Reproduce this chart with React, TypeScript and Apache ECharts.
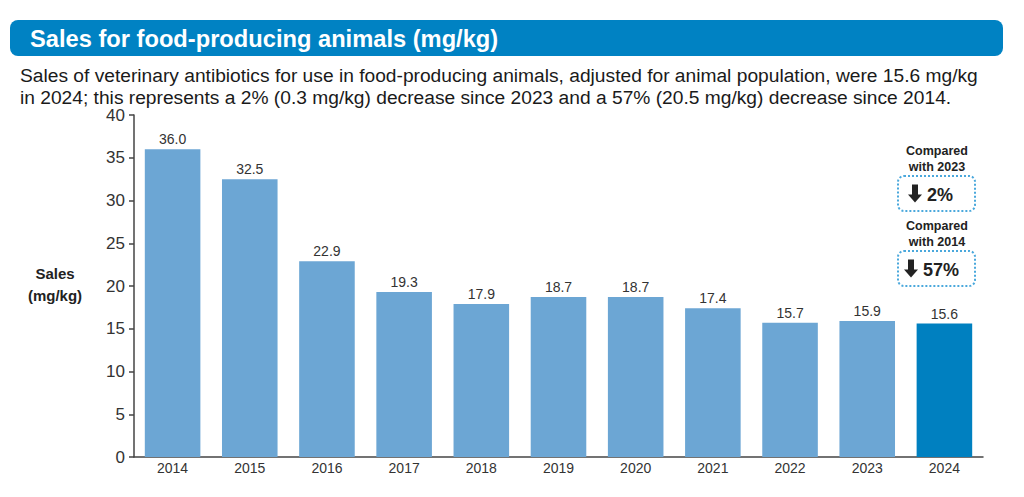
import React, { useEffect, useRef } from "react";
import * as echarts from "echarts";

const categories = ["2014", "2015", "2016", "2017", "2018", "2019", "2020", "2021", "2022", "2023", "2024"];
const salesValues = [36.0, 32.5, 22.9, 19.3, 17.9, 18.7, 18.7, 17.4, 15.7, 15.9, 15.6];
const yTicks = [0, 5, 10, 15, 20, 25, 30, 35, 40];
const titleText = "Sales for food-producing animals (mg/kg)";
const subtitleLines = [
  "Sales of veterinary antibiotics for use in food-producing animals, adjusted for animal population, were 15.6 mg/kg",
  "in 2024; this represents a 2% (0.3 mg/kg) decrease since 2023 and a 57% (20.5 mg/kg) decrease since 2014.",
];
const compareLabels = [
  { heading: ["Compared", "with 2023"], value: "2%" },
  { heading: ["Compared", "with 2014"], value: "57%" },
];

const FONT = "'Liberation Sans', Arial, sans-serif";
const OFF = 8; // body margin

export default function App() {
  const ref = useRef<HTMLDivElement>(null);
  useEffect(() => {
    const chart = echarts.init(ref.current!, undefined, { renderer: "svg" });
    const last = categories.length - 1;
    const boxTops = [176 - OFF, 251 - OFF];
    const headTops = [143 - OFF, 218 - OFF];
    const graphics: any[] = [
      {
        type: "rect",
        shape: { x: 10 - OFF, y: 20 - OFF, width: 993, height: 36, r: 8 },
        style: { fill: "#0082C3" },
      },
      {
        type: "text",
        x: 30 - OFF,
        y: 39 - OFF,
        style: {
          text: titleText,
          fill: "#fff",
          font: `bold 23px ${FONT}`,
          verticalAlign: "middle",
        },
        scaleX: 1.03,
      },
      ...subtitleLines.map((t, i) => ({
        type: "text",
        x: 20 - OFF,
        y: 75 - OFF + i * 22,
        style: { text: t, fill: "#1a1a1a", font: `19.2px ${FONT}`, verticalAlign: "middle" },
      })),
      {
        type: "text",
        x: 55 - OFF,
        y: 284 - OFF,
        style: {
          text: "Sales\n(mg/kg)",
          fill: "#222",
          font: `bold 15px ${FONT}`,
          align: "center",
          verticalAlign: "middle",
          lineHeight: 22,
        },
      },
    ];
    compareLabels.forEach((c, i) => {
      graphics.push({
        type: "text",
        x: 937 - OFF,
        y: headTops[i],
        style: {
          text: c.heading.join("\n"),
          fill: "#222",
          font: `bold 12.5px ${FONT}`,
          align: "center",
          verticalAlign: "top",
          lineHeight: 16,
        },
      });
      graphics.push({
        type: "rect",
        shape: { x: 898 - OFF, y: boxTops[i], width: 77, height: 35, r: 6 },
        style: { fill: "#fff", stroke: "#4AA8DC", lineWidth: 2, lineDash: [2, 2] },
      });
      const ax = (i === 0 ? 915 : 911) - OFF;
      const ay = boxTops[i] + 17.5;
      graphics.push({
        type: "polygon",
        shape: {
          points: [
            [ax - 3, ay - 9],
            [ax + 3, ay - 9],
            [ax + 3, ay + 1],
            [ax + 7, ay + 1],
            [ax, ay + 9],
            [ax - 7, ay + 1],
            [ax - 3, ay + 1],
          ],
        },
        style: { fill: "#222" },
      });
      graphics.push({
        type: "text",
        x: ax + 12,
        y: ay + 1,
        style: {
          text: c.value,
          fill: "#222",
          font: `bold 18px ${FONT}`,
          verticalAlign: "middle",
        },
      });
    });

    chart.setOption({
      animation: false,
      grid: { left: 134 - OFF, right: 33, top: 115 - OFF, bottom: 40 },
      xAxis: {
        type: "category",
        data: categories,
        axisLine: { lineStyle: { color: "#444", width: 1.5 } },
        axisTick: { show: false },
        axisLabel: { color: "#333", fontSize: 14, fontFamily: FONT, margin: 4 },
      },
      yAxis: {
        type: "value",
        min: 0,
        max: 40,
        interval: 5,
        axisLine: { show: true, lineStyle: { color: "#444", width: 1.5 } },
        axisTick: { show: true, length: 5, lineStyle: { color: "#444", width: 1.5 } },
        splitLine: { show: false },
        axisLabel: {
          color: "#333",
          fontSize: 17,
          fontFamily: FONT,
          margin: 9,
          padding: [5, 0, 0, 0],
          formatter: (v: number) => (yTicks.includes(v) ? String(v) : ""),
        },
      },
      series: [
        {
          type: "bar",
          barWidth: "72%",
          data: salesValues.map((v, i) => ({
            value: v,
            itemStyle: { color: i === last ? "#0080C0" : "#6CA6D4" },
          })),
          label: {
            show: true,
            position: "top",
            color: "#333",
            fontSize: 14,
            fontFamily: FONT,
            distance: 3,
            formatter: (p: any) => p.value.toFixed(1),
          },
        },
      ],
      graphic: graphics,
    });
    return () => chart.dispose();
  }, []);
  return <div ref={ref} style={{ width: 1008, height: 489 }} />;
}
